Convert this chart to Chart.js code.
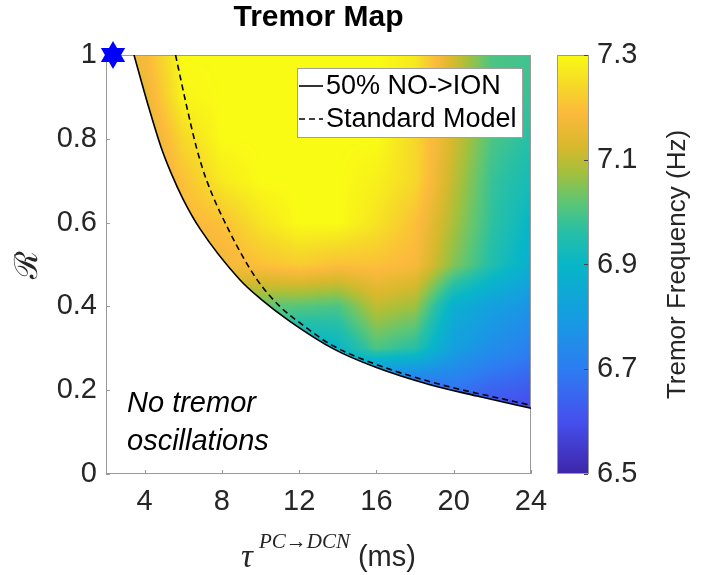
<!DOCTYPE html>
<html><head><meta charset="utf-8">
<script src="https://cdn.jsdelivr.net/npm/chart.js@4.4.0/dist/chart.umd.min.js"></script>
<style>html,body{margin:0;padding:0;background:#fff;}#wrap{width:705px;height:575px;}</style>
</head><body><div id="wrap"><canvas id="c" width="705" height="575"></canvas></div>
<script>
// ---------------- data ----------------
const tauGrid = [2, 4, 6, 8, 10, 12, 14, 16, 18, 20, 22, 24];
const rGrid = [1.0, 0.9, 0.8, 0.7, 0.6, 0.5, 0.4, 0.3, 0.2, 0.1, 0.0];
// tremor frequency (Hz), one row per rGrid value, one column per tauGrid value; null = no oscillation
const freqGrid = [
  [null, 7.18, 7.30, 7.30, 7.30, 7.30, 7.30, 7.30, 7.27, 7.12, 7.00, 6.99],
  [null, 7.15, 7.29, 7.30, 7.30, 7.30, 7.30, 7.30, 7.26, 7.12, 7.00, 6.98],
  [null, 7.12, 7.24, 7.30, 7.30, 7.30, 7.30, 7.30, 7.24, 7.12, 7.00, 6.96],
  [null, 7.12, 7.20, 7.27, 7.30, 7.30, 7.30, 7.28, 7.24, 7.10, 6.98, 6.93],
  [null, null, 7.18, 7.20, 7.26, 7.30, 7.30, 7.26, 7.20, 7.08, 6.97, 6.90],
  [null, null, 7.10, 7.17, 7.20, 7.22, 7.20, 7.20, 7.18, 7.05, 6.95, 6.87],
  [null, null, null, 7.05, 7.02, 7.01, 7.00, 7.10, 7.07, 6.87, 6.81, 6.77],
  [null, null, null, null, 6.95, 6.87, 6.90, 7.00, 6.96, 6.81, 6.75, 6.71],
  [null, null, null, null, null, null, 6.80, 6.60, 6.62, 6.68, 6.64, 6.62],
  [null, null, null, null, null, null, null, null, null, 6.60, 6.55, 6.55],
  [null, null, null, null, null, null, null, null, null, null, null, null]
];
const boundaryTau = [3.45, 4.15, 4.85, 5.4, 6.0, 6.87, 8.94, 10.0, 11.5, 13.8, 16.0, 18.77, 21.2, 24.0];
const boundaryR   = [1.0, 0.885, 0.78, 0.715, 0.655, 0.585, 0.463, 0.418, 0.365, 0.298, 0.254, 0.213, 0.186, 0.157];
const standardTau = [5.6, 6.14, 6.7, 7.2, 8.4, 9.8, 11.0, 12.2, 13.6, 15.5, 18.8, 24.0];
const standardR   = [1.0, 0.885, 0.776, 0.702, 0.578, 0.465, 0.4, 0.355, 0.31, 0.27, 0.22, 0.164];
const starTau = [2.36];
const starR = [1.0];
const xTicks = [4, 8, 12, 16, 20, 24];
const yTicks = [0, 0.2, 0.4, 0.6, 0.8, 1];
const cTicks = [6.5, 6.7, 6.9, 7.1, 7.3];
const cMin = 6.5, cMax = 7.3;
const chartTitle = 'Tremor Map';
const seriesLabels = ['50% NO->ION', 'Standard Model'];
const annotationLines = ['No tremor', 'oscillations'];

// ---------------- style ----------------
const SANS = "'Liberation Sans', Arial, sans-serif";
const SERIF = "'Liberation Serif', 'DejaVu Serif', serif";
const TXT = '#262626';
const AXC = '#9a9a9a';
const cmapStops = [
  [0.000, [62, 38, 168]], [0.125, [70, 80, 238]], [0.250, [45, 125, 242]],
  [0.375, [22, 157, 225]], [0.500, [8, 182, 200]], [0.580, [40, 192, 165]],
  [0.650, [95, 198, 115]], [0.720, [165, 192, 60]], [0.780, [215, 185, 45]],
  [0.860, [252, 186, 60]], [0.930, [246, 218, 40]], [1.000, [249, 251, 20]]
];
function cmap(t) {
  t = Math.max(0, Math.min(1, t));
  for (let i = 0; i < cmapStops.length - 1; i++) {
    const [a, ca] = cmapStops[i], [b, cb] = cmapStops[i + 1];
    if (t <= b) { const f = (t - a) / (b - a); return [0, 1, 2].map(k => ca[k] + f * (cb[k] - ca[k])); }
  }
  return cmapStops[cmapStops.length - 1][1];
}
function fracIndex(arr, v) {
  const n = arr.length;
  for (let i = 0; i < n - 1; i++) {
    const a = arr[i], b = arr[i + 1];
    if ((v - a) * (v - b) <= 0) return i + (v - a) / (b - a);
  }
  return Math.abs(v - arr[0]) < Math.abs(v - arr[n - 1]) ? 0 : n - 1;
}
function renderGrid() {
  const g = freqGrid.map(r => r.slice());
  const nr = g.length, nc = g[0].length;
  for (let c = 0; c < nc; c++) for (let r = 0; r < nr; r++) if (g[r][c] == null) {
    for (let k = r - 1; k >= 0; k--) if (g[k][c] != null) { g[r][c] = g[k][c]; break; }
  }
  for (let c = nc - 2; c >= 0; c--) for (let r = 0; r < nr; r++) if (g[r][c] == null) g[r][c] = g[r][c + 1];
  for (let c = 1; c < nc; c++) for (let r = 0; r < nr; r++) if (g[r][c] == null) g[r][c] = g[r][c - 1];
  return g;
}
function makeStar(r) {
  const s = Math.ceil(2 * r + 2), c = document.createElement('canvas');
  c.width = s; c.height = s;
  const g = c.getContext('2d'), cx = s / 2, cy = s / 2;
  g.fillStyle = '#0000ff';
  for (const rot of [-Math.PI / 2, Math.PI / 2]) {
    g.beginPath();
    for (let k = 0; k < 3; k++) {
      const a = rot + k * 2 * Math.PI / 3;
      const x = cx + r * Math.cos(a), y = cy + r * Math.sin(a);
      k ? g.lineTo(x, y) : g.moveTo(x, y);
    }
    g.closePath(); g.fill();
  }
  return c;
}

const heatPlugin = {
  id: 'heat',
  beforeDatasetsDraw(chart) {
    const ctx = chart.ctx, xs = chart.scales.x, ys = chart.scales.y, cs = chart.scales.c;
    const {left, top, right, bottom} = chart.chartArea;
    const w = Math.round(right - left), h = Math.round(bottom - top);
    const g = renderGrid();
    const off = document.createElement('canvas'); off.width = w; off.height = h;
    const octx = off.getContext('2d');
    const img = octx.createImageData(w, h);
    const fx = [], fy = [];
    for (let i = 0; i < w; i++) fx.push(fracIndex(tauGrid, xs.getValueForPixel(left + i + 0.5)));
    for (let j = 0; j < h; j++) fy.push(fracIndex(rGrid, ys.getValueForPixel(top + j + 0.5)));
    const nc = tauGrid.length, nr = rGrid.length;
    for (let j = 0; j < h; j++) {
      const r0 = Math.min(Math.floor(fy[j]), nr - 2), ty = fy[j] - r0;
      for (let i = 0; i < w; i++) {
        const c0 = Math.min(Math.floor(fx[i]), nc - 2), tx = fx[i] - c0;
        const v = (1 - ty) * ((1 - tx) * g[r0][c0] + tx * g[r0][c0 + 1]) + ty * ((1 - tx) * g[r0 + 1][c0] + tx * g[r0 + 1][c0 + 1]);
        const col = cmap((v - cMin) / (cMax - cMin));
        const p = (j * w + i) * 4;
        img.data[p] = col[0]; img.data[p + 1] = col[1]; img.data[p + 2] = col[2]; img.data[p + 3] = 255;
      }
    }
    octx.putImageData(img, 0, 0);
    const line = chart.getDatasetMeta(0).dataset;
    line.updateControlPoints(chart.chartArea, 'x');
    const pts = line.points;
    ctx.save();
    ctx.beginPath(); ctx.rect(left, top, right - left, bottom - top); ctx.clip();
    ctx.beginPath();
    line.path(ctx);
    ctx.lineTo(right + 5, pts[pts.length - 1].y);
    ctx.lineTo(right + 5, top - 5);
    ctx.lineTo(pts[0].x, top - 5);
    ctx.closePath();
    ctx.clip();
    ctx.drawImage(off, left, top);
    ctx.restore();

    ctx.save();
    ctx.strokeStyle = AXC; ctx.lineWidth = 1;
    ctx.strokeRect(left + 0.5, top + 0.5, right - left - 1, bottom - top - 1);
    ctx.beginPath();
    for (const t of xTicks) { const x = Math.round(xs.getPixelForValue(t)) + 0.5; ctx.moveTo(x, bottom); ctx.lineTo(x, bottom - 4); }
    for (const t of yTicks) { const y = Math.round(ys.getPixelForValue(t)) + 0.5; ctx.moveTo(left, y); ctx.lineTo(left + 4, y); }
    ctx.stroke();
    const cbL = right + 26, cbW = 32;
    for (let y = Math.round(cs.top); y < Math.round(cs.bottom); y++) {
      const col = cmap((cs.getValueForPixel(y + 0.5) - cMin) / (cMax - cMin));
      ctx.fillStyle = `rgb(${col[0] | 0},${col[1] | 0},${col[2] | 0})`;
      ctx.fillRect(cbL, y, cbW, 1);
    }
    ctx.strokeStyle = AXC;
    ctx.strokeRect(cbL + 0.5, cs.top + 0.5, cbW - 1, cs.bottom - cs.top - 1);
    ctx.strokeStyle = '#444';
    ctx.beginPath();
    for (const t of cTicks) { const y = Math.round(cs.getPixelForValue(t)) + 0.5; ctx.moveTo(cbL + cbW - 1, y); ctx.lineTo(cbL + cbW - 5, y); }
    ctx.stroke();
    ctx.restore();
  },
  afterDraw(chart) {
    const ctx = chart.ctx, {left, top, right, bottom} = chart.chartArea;
    const ds = chart.data.datasets;
    ctx.save();
    ctx.font = `bold 30px ${SANS}`; ctx.fillStyle = '#000'; ctx.textAlign = 'center'; ctx.textBaseline = 'middle';
    ctx.fillText(chartTitle, (left + right) / 2, top - 37);
    ctx.textAlign = 'left';
    const bx = right - 234, by = top + 13, bw = 226, bh = 70;
    ctx.fillStyle = '#fff'; ctx.fillRect(bx, by, bw, bh);
    ctx.strokeStyle = '#a0a0a0'; ctx.lineWidth = 1; ctx.strokeRect(bx + 0.5, by + 0.5, bw - 1, bh - 1);
    ctx.font = `27px ${SANS}`; ctx.textBaseline = 'middle'; ctx.fillStyle = '#000';
    [0, 1].forEach(i => {
      const yy = by + 18 + i * 33;
      ctx.strokeStyle = ds[i].borderColor; ctx.lineWidth = ds[i].borderWidth;
      ctx.setLineDash(ds[i].borderDash || []);
      ctx.beginPath(); ctx.moveTo(bx + 2, yy); ctx.lineTo(bx + 26, yy); ctx.stroke();
      ctx.setLineDash([]);
      ctx.fillText(ds[i].label, bx + 29, yy + 1);
    });
    ctx.font = `italic 29px ${SANS}`; ctx.textBaseline = 'alphabetic'; ctx.fillStyle = '#000';
    ctx.fillText(annotationLines[0], left + 21, bottom - 62);
    ctx.fillText(annotationLines[1], left + 21, bottom - 24);
    const fTau = `italic 33px ${SERIF}`, fSup = `italic 21px ${SERIF}`, fMs = `29px ${SANS}`;
    ctx.fillStyle = TXT;
    ctx.font = fTau; const wT = ctx.measureText('\u03C4').width;
    ctx.font = fSup; const wS = ctx.measureText('PC\u2192DCN').width;
    ctx.font = fMs; const wM = ctx.measureText(' (ms)').width;
    const gap = 6, total = wT + gap + wS + wM;
    let x0 = (left + right) / 2 + 10 - total / 2;
    ctx.font = fTau; ctx.fillText('\u03C4', x0, bottom + 93);
    ctx.font = fSup; ctx.fillText('PC\u2192DCN', x0 + wT + gap, bottom + 74);
    ctx.font = fMs; ctx.fillText(' (ms)', x0 + wT + gap + wS, bottom + 92);
    const cs = chart.scales.c;
    ctx.translate(right + 147, (cs.top + cs.bottom) / 2);
    ctx.rotate(-Math.PI / 2);
    ctx.font = `26px ${SANS}`; ctx.textAlign = 'center'; ctx.textBaseline = 'middle'; ctx.fillStyle = TXT;
    ctx.fillText('Tremor Frequency (Hz)', 0, 0);
    ctx.restore();
  }
};

const toPts = (xa, ya) => xa.map((x, i) => ({x, y: ya[i]}));
const setTicks = arr => (s => { s.ticks = arr.map(v => ({value: v})); });

new Chart(document.getElementById('c'), {
  type: 'scatter',
  data: {
    datasets: [
      {type: 'line', label: seriesLabels[0], data: toPts(boundaryTau, boundaryR), borderColor: '#000', borderWidth: 1.6,
       pointRadius: 0, cubicInterpolationMode: 'monotone', fill: false},
      {type: 'line', label: seriesLabels[1], data: toPts(standardTau, standardR), borderColor: '#000', borderWidth: 1.6,
       borderDash: [6, 4], pointRadius: 0, cubicInterpolationMode: 'monotone', fill: false},
      {type: 'scatter', label: 'star', data: toPts(starTau, starR), pointStyle: makeStar(14), clip: false}
    ]
  },
  options: {
    responsive: false, animation: false, devicePixelRatio: 1,
    layout: {padding: {top: 55, left: 0, right: 0, bottom: 0}},
    plugins: {legend: {display: false}, tooltip: {enabled: false}, title: {display: false}},
    scales: {
      x: {type: 'linear', position: 'bottom', min: 2, max: 24, afterBuildTicks: setTicks(xTicks),
          afterFit: s => { s.height = 101; s.paddingLeft = 0; s.paddingRight = 0; },
          grid: {display: false, drawTicks: false}, border: {display: false},
          ticks: {color: TXT, font: {family: SANS, size: 29}, padding: 11, maxRotation: 0,
                  callback: v => String(+v.toFixed(2))}},
      y: {type: 'linear', position: 'left', min: 0, max: 1, afterBuildTicks: setTicks(yTicks),
          afterFit: s => { s.width = 106; s.paddingTop = 0; s.paddingBottom = 0; },
          grid: {display: false, drawTicks: false}, border: {display: false},
          ticks: {color: TXT, font: {family: SANS, size: 29}, padding: 9, callback: v => String(+v.toFixed(2))},
          title: {display: true, text: '\u211B', color: TXT, font: {family: "'DejaVu Serif', serif", size: 32, lineHeight: 1.2},
                  padding: {top: 9, bottom: 0}}},
      c: {type: 'linear', axis: 'y', position: 'right', min: cMin, max: cMax, display: true,
          afterBuildTicks: setTicks(cTicks), afterFit: s => { s.width = 174; s.paddingTop = 0; s.paddingBottom = 0; },
          grid: {display: false, drawTicks: false}, border: {display: false},
          ticks: {color: TXT, font: {family: SANS, size: 29}, padding: 66, callback: v => v.toFixed(1)}}
    }
  },
  plugins: [heatPlugin]
});
</script></body></html>
